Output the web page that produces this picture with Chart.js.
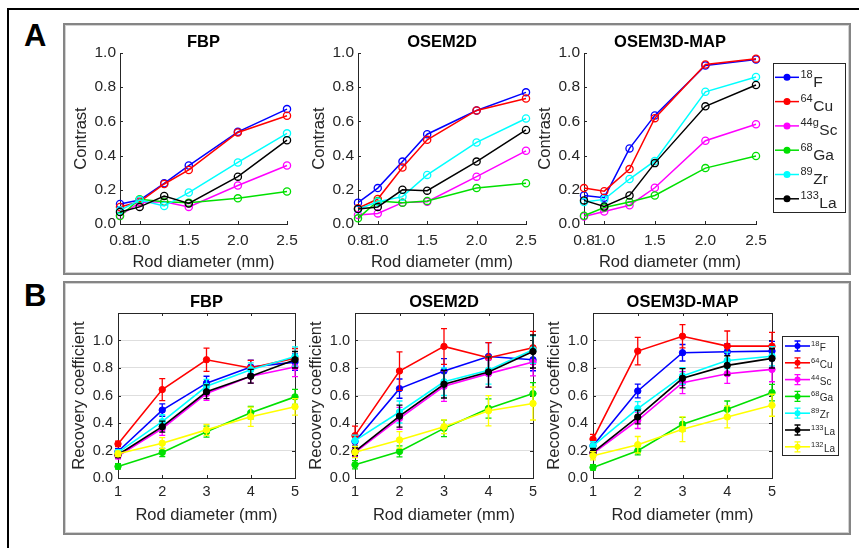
<!DOCTYPE html>
<html>
<head>
<meta charset="utf-8">
<script src="https://cdn.jsdelivr.net/npm/chart.js@4.4.0/dist/chart.umd.min.js"></script>
<style>
  body { margin: 0; width: 859px; height: 548px; overflow: hidden; background: #fff; position: relative;
         font-family: 'Liberation Sans', Arial, sans-serif; }
  .outer { position: absolute; left: 7px; top: 8px; width: 900px; height: 600px; border: 2px solid #000; }
  .panel { position: absolute; box-sizing: border-box; border: 2px solid #858585; box-shadow: inset 0 0 0 1px #d2d2d2; }
  .letter { position: absolute; font-weight: bold; font-size: 31px; line-height: 31px; color: #000; }
  canvas { position: absolute; }
</style>
</head>
<body>
<div class="outer"></div>
<div class="panel" style="left:63px; top:23px; width:788px; height:252px;"></div>
<div class="panel" style="left:63px; top:281px; width:788px; height:254px;"></div>
<div class="letter" style="left:24px; top:20px;">A</div>
<div class="letter" style="left:24px; top:280px;">B</div>

<canvas id="aFBP"></canvas>
<canvas id="aOSEM2D"></canvas>
<canvas id="aOSEM3D"></canvas>
<canvas id="bFBP"></canvas>
<canvas id="bOSEM2D"></canvas>
<canvas id="bOSEM3D"></canvas>

<script>
const FONT = "'Liberation Sans', Arial, Helvetica, sans-serif";
const AX = '#262626';
Chart.defaults.font.family = FONT;
Chart.defaults.color = AX;
Chart.defaults.animation = false;

// --- data ---------------------------------------------------------------
const colors = ['#0000ff', '#ff0000', '#ff00ff', '#00e000', '#00ffff', '#000000', '#ffff00'];

const massA = ['18', '64', '44g', '68', '89', '133'];
const elemA = ['F', 'Cu', 'Sc', 'Ga', 'Zr', 'La'];
const massB = ['18', '64', '44', '68', '89', '133', '132'];
const elemB = ['F', 'Cu', 'Sc', 'Ga', 'Zr', 'La', 'La'];

const rodA = [0.8, 1.0, 1.25, 1.5, 2.0, 2.5];
const xTicksA = [0.8, 1.0, 1.5, 2.0, 2.5];
const yTicksA = [0, 0.2, 0.4, 0.6, 0.8, 1.0];

const rodB = [1, 2, 3, 4, 5];
const xTicksB = [1, 2, 3, 4, 5];
const yTicksB = [0, 0.2, 0.4, 0.6, 0.8, 1.0];

// contrast, rows: 18F, 64Cu, 44gSc, 68Ga, 89Zr, 133La
const contrastFBP = [
  [0.117, 0.140, 0.238, 0.342, 0.539, 0.672],
  [0.100, 0.130, 0.234, 0.316, 0.535, 0.633],
  [0.050, 0.125, 0.130, 0.100, 0.225, 0.342],
  [0.047, 0.145, 0.130, 0.125, 0.150, 0.190],
  [0.080, 0.140, 0.105, 0.184, 0.360, 0.530],
  [0.070, 0.100, 0.164, 0.120, 0.277, 0.490]
];
const contrastOSEM2D = [
  [0.125, 0.210, 0.365, 0.525, 0.664, 0.770],
  [0.092, 0.146, 0.330, 0.492, 0.664, 0.734],
  [0.053, 0.062, 0.125, 0.130, 0.277, 0.428],
  [0.033, 0.135, 0.125, 0.135, 0.210, 0.238],
  [0.086, 0.130, 0.160, 0.287, 0.477, 0.617],
  [0.088, 0.100, 0.200, 0.195, 0.365, 0.550]
];
const contrastOSEM3D = [
  [0.167, 0.154, 0.442, 0.635, 0.927, 0.962],
  [0.210, 0.192, 0.321, 0.619, 0.933, 0.967],
  [0.044, 0.073, 0.110, 0.212, 0.487, 0.583],
  [0.048, 0.096, 0.129, 0.167, 0.327, 0.398],
  [0.129, 0.144, 0.263, 0.369, 0.773, 0.860],
  [0.138, 0.102, 0.167, 0.356, 0.688, 0.813]
];

// recovery coefficient, rows: 18F, 64Cu, 44Sc, 68Ga, 89Zr, 133La, 132La
const rcFBP = [
  [0.193, 0.494, 0.690, 0.807, 0.843],
  [0.248, 0.643, 0.860, 0.800, 0.872],
  [0.160, 0.360, 0.614, 0.740, 0.807],
  [0.084, 0.186, 0.337, 0.475, 0.590],
  [0.186, 0.410, 0.667, 0.788, 0.884],
  [0.169, 0.373, 0.627, 0.740, 0.860],
  [0.176, 0.253, 0.350, 0.446, 0.518]
];
const rcErrFBP = [
  [0.02, 0.045, 0.05, 0.05, 0.06],
  [0.02, 0.08, 0.085, 0.055, 0.07],
  [0.02, 0.05, 0.05, 0.05, 0.07],
  [0.02, 0.03, 0.04, 0.045, 0.055],
  [0.02, 0.05, 0.05, 0.05, 0.07],
  [0.02, 0.04, 0.05, 0.05, 0.06],
  [0.02, 0.04, 0.04, 0.07, 0.06]
];
const rcOSEM2D = [
  [0.265, 0.650, 0.778, 0.884, 0.860],
  [0.308, 0.778, 0.957, 0.875, 0.947],
  [0.186, 0.434, 0.667, 0.759, 0.843],
  [0.096, 0.193, 0.361, 0.506, 0.614],
  [0.272, 0.480, 0.700, 0.783, 0.933],
  [0.193, 0.450, 0.682, 0.771, 0.920],
  [0.188, 0.277, 0.373, 0.489, 0.542]
];
const rcErrOSEM2D = [
  [0.04, 0.07, 0.09, 0.10, 0.08],
  [0.07, 0.14, 0.13, 0.11, 0.12],
  [0.03, 0.08, 0.11, 0.10, 0.10],
  [0.03, 0.04, 0.06, 0.07, 0.08],
  [0.04, 0.08, 0.10, 0.10, 0.10],
  [0.03, 0.08, 0.10, 0.11, 0.12],
  [0.04, 0.06, 0.05, 0.11, 0.12]
];
const rcOSEM3D = [
  [0.234, 0.633, 0.911, 0.918, 0.923],
  [0.283, 0.923, 1.031, 0.959, 0.959],
  [0.179, 0.420, 0.693, 0.758, 0.790],
  [0.077, 0.198, 0.391, 0.500, 0.621],
  [0.234, 0.505, 0.742, 0.855, 0.886],
  [0.186, 0.444, 0.725, 0.819, 0.870],
  [0.162, 0.242, 0.355, 0.444, 0.529]
];
const rcErrOSEM3D = [
  [0.03, 0.05, 0.06, 0.06, 0.07],
  [0.035, 0.10, 0.085, 0.11, 0.10],
  [0.03, 0.06, 0.08, 0.07, 0.09],
  [0.02, 0.03, 0.05, 0.06, 0.06],
  [0.03, 0.05, 0.06, 0.06, 0.07],
  [0.03, 0.05, 0.07, 0.07, 0.07],
  [0.03, 0.06, 0.09, 0.08, 0.08]
];

// --- plugins ------------------------------------------------------------
const px = v => Math.round(v) + 0.5;

// MATLAB style inward ticks, plus the top/right box lines for panel B
const axesDecor = {
  id: 'axesDecor',
  beforeDatasetsDraw(chart, args, o) {
    const { ctx, chartArea: a, scales: { x, y } } = chart;
    const t = 3;
    ctx.save();
    ctx.strokeStyle = AX;
    ctx.lineWidth = 1;
    ctx.beginPath();
    y.ticks.forEach(tk => {
      const p = px(y.getPixelForValue(tk.value));
      ctx.moveTo(a.left, p); ctx.lineTo(a.left + t, p);
      if (o.box) { ctx.moveTo(a.right, p); ctx.lineTo(a.right - t, p); }
    });
    x.ticks.forEach(tk => {
      const p = px(x.getPixelForValue(tk.value));
      ctx.moveTo(p, a.bottom); ctx.lineTo(p, a.bottom - t);
      if (o.box) { ctx.moveTo(p, a.top); ctx.lineTo(p, a.top + t); }
    });
    if (o.box) {
      ctx.moveTo(a.left, px(a.top)); ctx.lineTo(px(a.right), px(a.top)); ctx.lineTo(px(a.right), a.bottom);
    }
    ctx.stroke();
    ctx.restore();
  }
};

const errorBars = {
  id: 'errorBars',
  afterDatasetDraw(chart, args) {
    const ds = chart.data.datasets[args.index];
    if (!ds.errors) return;
    const { ctx } = chart;
    const y = chart.scales.y;
    const cap = 3;
    ctx.save();
    ctx.strokeStyle = ds.borderColor;
    ctx.lineWidth = 1.3;
    args.meta.data.forEach((pt, i) => {
      const v = ds.data[i].y, e = ds.errors[i];
      const top = y.getPixelForValue(v + e), bot = y.getPixelForValue(v - e);
      ctx.beginPath();
      ctx.moveTo(pt.x, top); ctx.lineTo(pt.x, bot);
      ctx.moveTo(pt.x - cap, top); ctx.lineTo(pt.x + cap, top);
      ctx.moveTo(pt.x - cap, bot); ctx.lineTo(pt.x + cap, bot);
      ctx.stroke();
    });
    ctx.restore();
  }
};

// legend with superscript mass numbers
const isoLegend = {
  id: 'isoLegend',
  afterDraw(chart, args, o) {
    if (!o.display) return;
    const { ctx } = chart;
    ctx.save();
    ctx.fillStyle = '#fff';
    ctx.fillRect(o.x, o.y, o.w, o.h);
    ctx.strokeStyle = AX;
    ctx.lineWidth = 1;
    ctx.strokeRect(px(o.x), px(o.y), o.w, o.h);
    chart.data.datasets.forEach((ds, i) => {
      const cy = o.y + o.first + i * o.step;
      const x0 = o.x + o.l0, x1 = o.x + o.l1, mx = (x0 + x1) / 2;
      ctx.strokeStyle = ds.borderColor;
      ctx.fillStyle = ds.borderColor;
      ctx.lineWidth = ds.borderWidth;
      ctx.beginPath(); ctx.moveTo(x0, cy); ctx.lineTo(x1, cy); ctx.stroke();
      if (o.errorbar) {
        ctx.lineWidth = 1.3;
        ctx.beginPath();
        ctx.moveTo(mx, cy - 5); ctx.lineTo(mx, cy + 5);
        ctx.moveTo(mx - 3, cy - 5); ctx.lineTo(mx + 3, cy - 5);
        ctx.moveTo(mx - 3, cy + 5); ctx.lineTo(mx + 3, cy + 5);
        ctx.stroke();
      }
      ctx.beginPath();
      ctx.arc(mx, cy, o.r, 0, Math.PI * 2);
      if (o.errorbar) ctx.fill(); else { ctx.lineWidth = 1.4; ctx.fill(); ctx.stroke(); }
      ctx.fillStyle = AX;
      ctx.textBaseline = 'alphabetic';
      ctx.textAlign = 'left';
      const tx = o.x + o.tx;
      ctx.font = `${o.sup}px ${FONT}`;
      ctx.fillText(ds.mass, tx, cy + o.supDy);
      const w = ctx.measureText(ds.mass).width;
      ctx.font = `${o.size}px ${FONT}`;
      ctx.fillText(ds.elem, tx + w + 0.5, cy + o.mainDy);
    });
    ctx.restore();
  }
};

// --- chart builder --------------------------------------------------------
function makePlot(id, g, o) {
  const canvas = document.getElementById(id);
  const left = g.L - 50, top = g.T - 30;
  canvas.width = g.R - g.L + 50 + g.padR;
  canvas.height = g.B - g.T + 80;
  canvas.style.left = left + 'px';
  canvas.style.top = top + 'px';

  const panelB = !!o.errs;
  const datasets = o.rows.map((vals, i) => ({
    label: o.mass[i] + o.elem[i],
    mass: o.mass[i],
    elem: o.elem[i],
    data: o.xs.map((x, j) => ({ x, y: vals[j] })),
    errors: panelB ? o.errs[i] : null,
    borderColor: colors[i],
    backgroundColor: colors[i],
    pointBackgroundColor: panelB ? colors[i] : 'rgba(255,255,255,0)',
    pointBorderColor: colors[i],
    pointRadius: panelB ? 3.2 : 3.6,
    pointBorderWidth: panelB ? 1 : 1.3,
    borderWidth: panelB ? 1.6 : 1.5,
    tension: 0,
    clip: false,
    order: o.rows.length - i
  }));

  let legend = { display: false };
  if (o.legend) {
    legend = Object.assign({ display: true }, o.legend, { x: o.legend.x - left, y: o.legend.y - top });
  }

  return new Chart(canvas, {
    type: 'line',
    data: { datasets },
    plugins: [axesDecor, errorBars, isoLegend],
    options: {
      responsive: false,
      animation: false,
      layout: { padding: { top: 9.1, right: g.padR, bottom: 0, left: 0 } },
      plugins: {
        legend: { display: false },
        tooltip: { enabled: false },
        title: {
          display: true, text: o.title, color: '#000', fullSize: false,
          font: { size: 16.5, weight: 'bold' }, padding: { top: 0, bottom: 1.1 }
        },
        axesDecor: { box: panelB },
        isoLegend: legend
      },
      scales: {
        x: {
          type: 'linear', min: o.xs[0], max: o.xs[o.xs.length - 1],
          afterBuildTicks: s => { s.ticks = o.xticks.map(v => ({ value: v })); },
          afterFit: s => { s.height = 50; },
          grid: { display: false, drawTicks: false },
          border: { display: true, color: AX, width: 1 },
          ticks: {
            autoSkip: false, maxRotation: 0, color: AX, padding: panelB ? 5 : 7,
            font: { size: panelB ? 14.5 : 15.5 },
            callback: v => panelB ? String(v) : v.toFixed(1)
          },
          title: {
            display: true, text: 'Rod diameter (mm)', color: AX, font: { size: 16.5 },
            padding: { top: 0, bottom: panelB ? 3.1 : 2.1 }
          }
        },
        y: {
          min: 0, max: panelB ? 1.2 : 1.0,
          afterBuildTicks: s => { s.ticks = o.yticks.map(v => ({ value: v })); },
          afterFit: s => { s.width = 50; },
          grid: { display: panelB, color: '#dedede', drawTicks: false },
          border: { display: true, color: AX, width: 1 },
          ticks: {
            color: AX, padding: panelB ? 5 : 4,
            font: { size: panelB ? 14.5 : 15.5 },
            callback: v => v.toFixed(1)
          },
          title: {
            display: true, text: o.ylabel, color: AX, font: { size: 16.5 },
            padding: { top: 2, bottom: 0 }
          }
        }
      }
    }
  });
}

const legendA = { x: 773, y: 63, w: 72, h: 149, first: 14.3, step: 24.3, l0: 2, l1: 26, tx: 27.5,
                  size: 15.5, sup: 11, mainDy: 9.5, supDy: 0.5, r: 2.8, errorbar: false };
const legendB = { x: 782, y: 336, w: 56, h: 119, first: 10, step: 16.8, l0: 3, l1: 28, tx: 29,
                  size: 10, sup: 7.5, mainDy: 5, supDy: 0, r: 3, errorbar: true };

makePlot('aFBP', { L: 120, R: 287, T: 53, B: 224, padR: 20 },
  { title: 'FBP', ylabel: 'Contrast', xs: rodA, xticks: xTicksA, yticks: yTicksA,
    rows: contrastFBP, mass: massA, elem: elemA });
makePlot('aOSEM2D', { L: 358, R: 526, T: 53, B: 224, padR: 20 },
  { title: 'OSEM2D', ylabel: 'Contrast', xs: rodA, xticks: xTicksA, yticks: yTicksA,
    rows: contrastOSEM2D, mass: massA, elem: elemA });
makePlot('aOSEM3D', { L: 584, R: 756, T: 53, B: 224, padR: 95 },
  { title: 'OSEM3D-MAP', ylabel: 'Contrast', xs: rodA, xticks: xTicksA, yticks: yTicksA,
    rows: contrastOSEM3D, mass: massA, elem: elemA, legend: legendA });

makePlot('bFBP', { L: 118, R: 295, T: 313, B: 478, padR: 20 },
  { title: 'FBP', ylabel: 'Recovery coefficient', xs: rodB, xticks: xTicksB, yticks: yTicksB,
    rows: rcFBP, errs: rcErrFBP, mass: massB, elem: elemB });
makePlot('bOSEM2D', { L: 355, R: 533, T: 313, B: 478, padR: 20 },
  { title: 'OSEM2D', ylabel: 'Recovery coefficient', xs: rodB, xticks: xTicksB, yticks: yTicksB,
    rows: rcOSEM2D, errs: rcErrOSEM2D, mass: massB, elem: elemB });
makePlot('bOSEM3D', { L: 593, R: 772, T: 313, B: 478, padR: 70 },
  { title: 'OSEM3D-MAP', ylabel: 'Recovery coefficient', xs: rodB, xticks: xTicksB, yticks: yTicksB,
    rows: rcOSEM3D, errs: rcErrOSEM3D, mass: massB, elem: elemB, legend: legendB });
</script>
</body>
</html>
